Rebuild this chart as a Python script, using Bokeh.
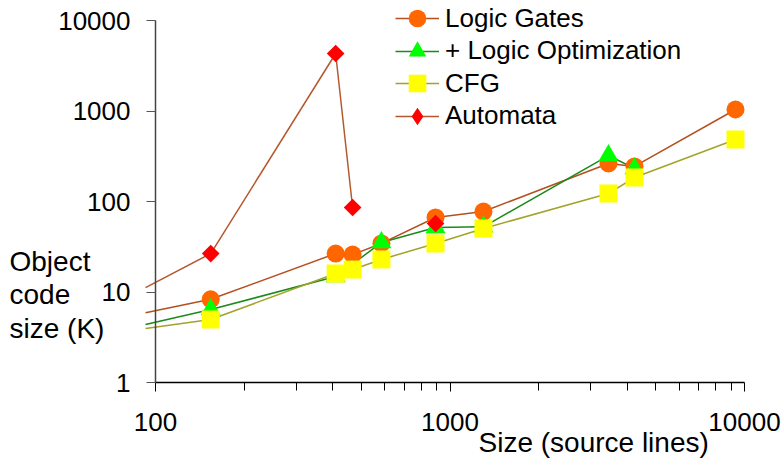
import math
from bokeh.plotting import figure
from bokeh.models import (Range1d, FixedTicker, PrintfTickFormatter, Legend, LegendItem, Label)
from bokeh.embed import file_html
from bokeh.resources import INLINE

# ---- data ----
nan = float("nan")
x_gates = [92.5, 154, 409, 467, 585, 893, 1299, 3452, 4231, 9320]
y_gates = [5.9, 8.3, 26.6, 25.9, 34.4, 66.6, 77.5, 263, 244, 1039]

x_opt = [92.5, 154, 409, 585, 893, 1299, 3452, 4231]
y_opt = [4.37, 6.4, 14.8, 35.2, 51.6, 52.5, 322, 232]

x_cfg = [92.5, 154, 409, 467, 585, 893, 1299, 3452, 4231, 9320]
y_cfg = [3.95, 4.97, 16.0, 17.7, 22.9, 34.4, 50.3, 122.6, 184, 484]

x_aut = [92.5, 154, 409, 467, nan, 893]
y_aut = [11.2, 26.6, 4320, 85.9, nan, 57.1]

series_names = ["Logic Gates", "+ Logic Optimization", "CFG", "Automata"]
x_ticks = [100, 1000, 10000]
y_ticks = [1, 10, 100, 1000, 10000]
x_title = "Size (source lines)"
y_title_lines = ["Object", "code", "size (K)"]

FONT = "Liberation Sans"
FS = "26px"       # tick labels and legend
FS_T = "28px"     # axis titles

W, H = 782, 458
# pixel placement of the axes inside the canvas (frame covers whole canvas)
AX_L, AX_R = 155, 744     # x = 100 .. 10000
AX_T, AX_B = 20, 382      # y = 10000 .. 1
px_dec = (AX_R - AX_L) / 2.0
py_dec = (AX_B - AX_T) / 4.0
x0 = 10 ** (2 - AX_L / px_dec)
x1 = 10 ** (2 + (W - AX_L) / px_dec)
y1 = 10 ** (4 + AX_T / py_dec)
y0 = 10 ** (0 - (H - AX_B) / py_dec)

p = figure(width=W, height=H, x_axis_type="log", y_axis_type="log",
           x_range=Range1d(x0, x1), y_range=Range1d(y0, y1),
           output_backend="svg", toolbar_location=None,
           min_border_left=0, min_border_right=0,
           min_border_top=0, min_border_bottom=0)
p.outline_line_color = None
p.grid.visible = False
p.background_fill_color = "white"
p.border_fill_color = "white"

# axes, fixed inside the frame
xa = p.xaxis[0]
xa.fixed_location = y_ticks[0]
xa.bounds = (x_ticks[0], x_ticks[-1])
xa.ticker = FixedTicker(ticks=x_ticks,
                        minor_ticks=[m * d for d in (100, 1000) for m in range(2, 10)])
xa.formatter = PrintfTickFormatter(format="%d")
xa.axis_line_color = "black"
xa.axis_line_width = 1.5
xa.major_tick_line_color = "black"
xa.minor_tick_line_color = "black"
xa.major_tick_out = 9
xa.major_tick_in = 0
xa.minor_tick_out = 8
xa.minor_tick_in = 0
xa.major_label_standoff = 21
xa.major_label_text_font = FONT
xa.major_label_text_font_size = FS
xa.major_label_text_color = "black"

ya = p.yaxis[0]
ya.fixed_location = x_ticks[0]
ya.bounds = (y_ticks[0], y_ticks[-1])
ya.ticker = FixedTicker(ticks=y_ticks, minor_ticks=[])
ya.formatter = PrintfTickFormatter(format="%d")
ya.axis_line_color = "#444444"
ya.axis_line_width = 1.5
ya.major_tick_line_color = "#555555"
ya.major_tick_out = 9
ya.major_tick_in = 0
ya.minor_tick_line_color = None
ya.major_label_standoff = 16
ya.major_label_text_font = FONT
ya.major_label_text_font_size = FS
ya.major_label_text_color = "black"

# lines
l1 = p.line(x_gates, y_gates, line_color="#b5501e", line_width=1.5)
l2 = p.line(x_opt, y_opt, line_color="#1a8a1a", line_width=1.5)
l3 = p.line(x_cfg, y_cfg, line_color="#a3a32a", line_width=1.5)
l4 = p.line(x_aut, y_aut, line_color="#b5582e", line_width=1.5)

# markers (first point lies left of the plotted range)
m1 = p.scatter(x_gates[1:], y_gates[1:], marker="circle", size=18,
               fill_color="#ff6600", line_color=None)
m2 = p.scatter(x_opt[1:], y_opt[1:], marker="triangle", size=20,
               fill_color="#00ff00", line_color=None)
m3 = p.scatter(x_cfg[1:], y_cfg[1:], marker="square", size=18,
               fill_color="#ffff00", line_color=None)
m4 = p.scatter(x_aut[1:], y_aut[1:], marker="square", size=12.5, angle=math.pi / 4,
               fill_color="#ff0000", line_color=None)
# legend-only diamond swatch for the Automata entry (its single point is NaN, so not drawn)
m4_leg = p.scatter(x=[nan], y=[nan], marker="diamond", size=18,
                   fill_color="#ff0000", line_color=None)

# legend: one row per Legend so that the marker size is independent of row pitch
row_centres = [18, 50.5, 83, 115.5]
glyph_h = [46, 46, 46, 46]
pairs = [(l1, m1), (l2, m2), (l3, m3), (l4, m4_leg)]
for name, (ln, mk), c, gh in zip(series_names, pairs, row_centres, glyph_h):
    lg = Legend(items=[LegendItem(label=name, renderers=[ln, mk])],
                location=(395, H - (c + gh / 2.0)))
    lg.padding = 0
    lg.margin = 0
    lg.border_line_color = None
    lg.background_fill_alpha = 0
    lg.glyph_width = 44
    lg.glyph_height = gh
    lg.label_height = 20
    lg.spacing = 0
    lg.label_standoff = 6
    lg.label_text_font = FONT
    lg.label_text_font_size = FS
    lg.label_text_color = "black"
    p.add_layout(lg, "center")

# axis titles
p.add_layout(Label(x=478, y=H - 442, x_units="screen", y_units="screen", text=x_title,
                   text_font=FONT, text_font_size=FS_T, text_color="black",
                   text_baseline="alphabetic"))
for txt, yy in zip(y_title_lines, [261, 294, 328]):
    p.add_layout(Label(x=9, y=H - yy, x_units="screen", y_units="screen", text=txt,
                       text_font=FONT, text_font_size=FS_T, text_color="black",
                       text_baseline="alphabetic"))

open("out.html", "w").write(file_html(p, INLINE))
